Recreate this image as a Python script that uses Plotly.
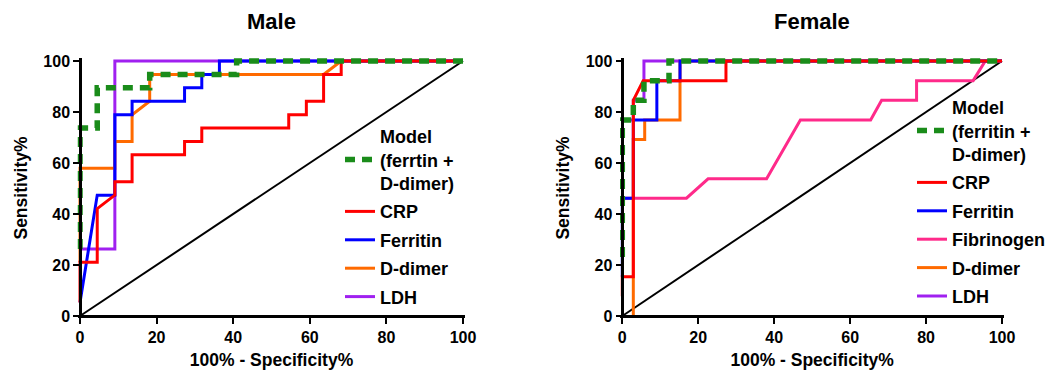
import plotly.graph_objects as go

# ---------------- data ----------------
# Male
m_crp_x = [0, 0, 4.5, 4.5, 9.1, 9.1, 13.6, 13.6, 27.3, 27.3, 31.8, 31.8, 54.5, 54.5, 59.1, 59.1, 63.6, 63.6, 68.2, 68.2, 100]
m_crp_y = [5.3, 21.1, 21.1, 42.1, 47.4, 52.6, 52.6, 63.2, 63.2, 68.4, 68.4, 73.7, 73.7, 78.9, 78.9, 84.2, 84.2, 94.7, 94.7, 100, 100]
m_fer_x = [0, 4.5, 9.1, 9.1, 13.6, 13.6, 27.3, 27.3, 31.8, 31.8, 36.4, 36.4, 100]
m_fer_y = [5.3, 47.4, 47.4, 78.9, 78.9, 84.2, 84.2, 89.5, 89.5, 94.7, 94.7, 100, 100]
m_dd_x = [0, 0, 9.1, 9.1, 13.6, 13.6, 18.2, 18.2, 63.6, 68.2, 100]
m_dd_y = [21.1, 57.9, 57.9, 68.4, 68.4, 78.9, 84.2, 94.7, 94.7, 100, 100]
m_ldh_x = [0, 9.1, 9.1, 100]
m_ldh_y = [26.3, 26.3, 100, 100]
m_mod_x = [0, 0, 4.5, 4.5, 18.2, 18.2, 40.9, 40.9, 100]
m_mod_y = [26.3, 73.7, 73.7, 89.5, 89.5, 94.7, 94.7, 100, 100]

# Female
f_crp_x = [0, 0, 2.9, 2.9, 5.5, 27.3, 27.3, 100]
f_crp_y = [7.7, 15.4, 15.4, 84.6, 92.3, 92.3, 100, 100]
f_fer_x = [0, 0, 2.9, 2.9, 9.1, 9.1, 15.2, 15.2, 100]
f_fer_y = [15.4, 46.2, 46.2, 76.9, 76.9, 92.3, 92.3, 100, 100]
f_fib_x = [0, 16.9, 22.6, 38.0, 46.9, 65.4, 68.3, 77.5, 77.5, 92.4, 95.6, 100]
f_fib_y = [46.2, 46.2, 53.8, 53.8, 76.9, 76.9, 84.6, 84.6, 92.3, 92.3, 100, 100]
f_dd_x = [2.9, 2.9, 5.9, 5.9, 15.2, 15.2, 100]
f_dd_y = [0, 69.2, 69.2, 76.9, 76.9, 100, 100]
f_ldh_x = [0, 2.9, 2.9, 5.7, 5.7, 100]
f_ldh_y = [76.9, 76.9, 84.6, 84.6, 100, 100]
f_mod_x = [0, 0, 2.9, 2.9, 5.7, 5.7, 12.3, 12.3, 100]
f_mod_y = [23.1, 76.9, 76.9, 84.6, 84.6, 92.3, 92.3, 100, 100]

ref_x = [0, 100]
ref_y = [0, 100]

ticks = [0, 20, 40, 60, 80, 100]
tick_text = ["0", "20", "40", "60", "80", "100"]

titles = ["Male", "Female"]
x_title = "100% - Specificity%"
y_title = "Sensitivity%"

# ---------------- styles ----------------
FONT = "Arial, Liberation Sans, sans-serif"
C_CRP = "#FF0000"
C_FER = "#0000FF"
C_DD = "#FF6A00"
C_LDH = "#A020F0"
C_FIB = "#FF2A8A"
C_MOD = "#1A8C1A"
LW = 3

# page body has an 8px margin; figure is sized to fit the window
OFF = 8
W, H = 1053 - OFF, 372 - OFF

def px(x):  # window pixel x -> paper fraction
    return (x - OFF) / W

def py(y):  # window pixel y -> paper fraction
    return (H - (y - OFF)) / H

fig = go.Figure()

def add(x, y, name, color, xa, ya, legend, rank, dash=None, width=LW, show=True):
    fig.add_trace(go.Scatter(
        x=x, y=y, name=name, mode="lines", xaxis=xa, yaxis=ya,
        line=dict(color=color, width=width, dash=dash),
        legend=legend, legendgroup=legend + name, legendrank=rank,
        showlegend=show, hoverinfo="skip"))

# Male panel
add(ref_x, ref_y, "ref", "black", "x", "y", "legend", 100, width=2, show=False)
add(m_ldh_x, m_ldh_y, "LDH", C_LDH, "x", "y", "legend", 5)
add(m_dd_x, m_dd_y, "D-dimer", C_DD, "x", "y", "legend", 4)
add(m_fer_x, m_fer_y, "Ferritin", C_FER, "x", "y", "legend", 3)
add(m_crp_x, m_crp_y, "CRP", C_CRP, "x", "y", "legend", 2)
add(m_mod_x, m_mod_y, "Model<br>(ferrtin +<br>D-dimer)", C_MOD, "x", "y", "legend", 1,
    dash="10px,7px", width=5.5)

# Female panel
add(ref_x, ref_y, "ref", "black", "x2", "y2", "legend2", 100, width=2, show=False)
add(f_fib_x, f_fib_y, "Fibrinogen", C_FIB, "x2", "y2", "legend2", 4)
add(f_ldh_x, f_ldh_y, "LDH", C_LDH, "x2", "y2", "legend2", 6)
add(f_dd_x, f_dd_y, "D-dimer", C_DD, "x2", "y2", "legend2", 5)
add(f_fer_x, f_fer_y, "Ferritin", C_FER, "x2", "y2", "legend2", 3)
add(f_crp_x, f_crp_y, "CRP", C_CRP, "x2", "y2", "legend2", 2)
add(f_mod_x, f_mod_y, "Model<br>(ferritin +<br>D-dimer)", C_MOD, "x2", "y2", "legend2", 1,
    dash="10px,7px", width=5.5)

tickfont = dict(family=FONT, size=16, color="black", weight="bold")
titlefont = dict(family=FONT, size=17.5, color="black", weight="bold")

def xaxis(domain, anchor_pos):
    return dict(domain=domain, range=[-0.6, 100.6], anchor="free", position=anchor_pos,
                automargin=False,
                showgrid=False, zeroline=False, showline=True, linecolor="black", linewidth=2.5,
                ticks="outside", ticklen=6, tickwidth=2, tickcolor="black",
                tickvals=ticks, ticktext=tick_text, tickfont=tickfont,
                title=dict(text=x_title, font=titlefont, standoff=8))

def yaxis(domain, anchor_pos):
    return dict(domain=domain, range=[-0.8, 101.2], anchor="free", position=anchor_pos,
                automargin=False,
                showgrid=False, zeroline=False, showline=True, linecolor="black", linewidth=2.5,
                ticks="outside", ticklen=6, tickwidth=2, tickcolor="black",
                tickvals=ticks, ticktext=tick_text, tickfont=tickfont,
                title=dict(text=y_title, font=titlefont, standoff=10))

# plot geometry in window pixels: y=0 at 316, y=100 at 61 (2.55 px/unit)
ydom = [py(316 + 0.8 * 2.55), py(61 - 1.2 * 2.55)]
xpos = py(316)

legfont = dict(family=FONT, size=18, color="black", weight="bold")

fig.update_layout(
    width=W, height=H,
    margin=dict(l=0, r=0, t=0, b=0, autoexpand=False),
    paper_bgcolor="white", plot_bgcolor="white",
    font=dict(family=FONT, color="black"),
    xaxis=xaxis([px(80 - 0.6 * 3.83), px(463 + 0.6 * 3.83)], xpos),
    yaxis=yaxis(ydom, px(80)),
    xaxis2=xaxis([px(622.3 - 0.6 * 3.797), px(1002 + 0.6 * 3.797)], xpos),
    yaxis2=yaxis(ydom, px(622.3)),
    legend=dict(x=px(340), y=py(118), xanchor="left", yanchor="top",
                bgcolor="rgba(0,0,0,0)", font=legfont,
                tracegroupgap=2, traceorder="grouped"),
    legend2=dict(x=px(912), y=py(89), xanchor="left", yanchor="top",
                 bgcolor="rgba(0,0,0,0)", font=legfont,
                 tracegroupgap=2, traceorder="grouped"),
    showlegend=True,
    annotations=[
        dict(text=titles[0], x=px(271.5), y=py(22), xref="paper", yref="paper",
             showarrow=False, font=dict(family=FONT, size=22, color="black", weight="bold"),
             xanchor="center", yanchor="middle"),
        dict(text=titles[1], x=px(812), y=py(22), xref="paper", yref="paper",
             showarrow=False, font=dict(family=FONT, size=22, color="black", weight="bold"),
             xanchor="center", yanchor="middle"),
    ],
)

fig.write_html("out.html")
